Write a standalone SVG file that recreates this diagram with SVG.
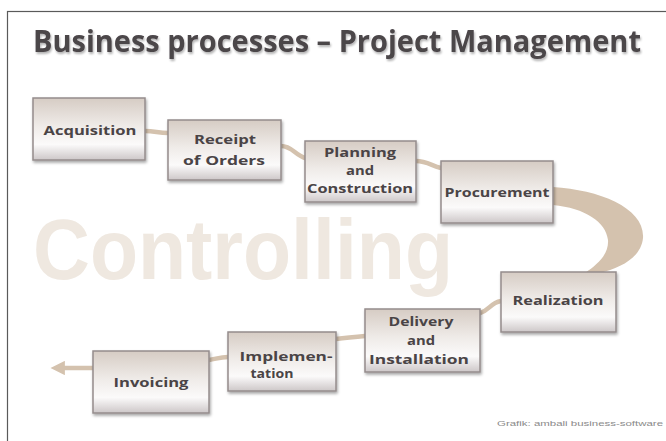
<svg xmlns="http://www.w3.org/2000/svg" width="666" height="441" viewBox="0 0 666 441">
<defs>
<linearGradient id="boxg" x1="0" y1="0" x2="0" y2="1">
<stop offset="0" stop-color="#d6ccc4"/>
<stop offset="0.45" stop-color="#efebe8"/>
<stop offset="0.75" stop-color="#fbfafa"/>
<stop offset="1" stop-color="#cdc7c8"/>
</linearGradient>
<filter id="sh" x="-10%" y="-10%" width="130%" height="140%">
<feGaussianBlur in="SourceAlpha" stdDeviation="1.5"/>
<feOffset dx="1" dy="2" result="b"/>
<feComponentTransfer><feFuncA type="linear" slope="0.35"/></feComponentTransfer>
<feMerge><feMergeNode/><feMergeNode in="SourceGraphic"/></feMerge>
</filter>
<filter id="tsh" x="-5%" y="-20%" width="110%" height="150%">
<feGaussianBlur in="SourceAlpha" stdDeviation="1"/>
<feOffset dx="1" dy="1.5"/>
<feComponentTransfer><feFuncA type="linear" slope="0.3"/></feComponentTransfer>
<feMerge><feMergeNode/><feMergeNode in="SourceGraphic"/></feMerge>
</filter>
<marker id="arr" viewBox="0 0 10 10" refX="2" refY="5" markerWidth="3.2" markerHeight="3.2" orient="auto-start-reverse">
<path d="M0,0 L10,5 L0,10 Z" fill="#d4c2ae"/>
</marker>
</defs>
<style>
.box{fill:url(#boxg);stroke:#958c8c;stroke-width:1.5;filter:url(#sh)}
.lbl{font-family:"Open Sans","DejaVu Sans",sans-serif;font-weight:700;font-size:13px;fill:#4a4446;text-anchor:middle}
.con{fill:none;stroke:#d4c2ae;stroke-width:4.5;stroke-linecap:round}
</style>
<rect x="0" y="0" width="666" height="441" fill="#ffffff"/>
<rect x="7.5" y="11.5" width="670" height="440" fill="none" stroke="#5a5a5a" stroke-width="1.2"/>
<text x="33" y="52" font-family="'Open Sans','DejaVu Sans',sans-serif" font-weight="700" font-size="30" fill="#4c464a" textLength="608" lengthAdjust="spacingAndGlyphs" filter="url(#tsh)">Business processes – Project Management</text>
<text x="33" y="279" font-family="'Liberation Sans',Arial,sans-serif" font-weight="700" font-size="85" fill="#efe8e0" textLength="420" lengthAdjust="spacingAndGlyphs">Controlling</text>
<g id="connectors">
<path class="con" d="M145,131 C155,131 158,133 168,133"/>
<path class="con" d="M281,146 C292,146 295,155 305,158"/>
<path class="con" d="M416,161 C427,161 432,166 441,168"/>
<path d="M553,187 C600,190 645,208 643,238 C641,258 620,268 600,273 L585,273 C598,264 609,254 608,240 C606,222 585,208 553,205 Z" fill="#d4c2ae"/>
<path class="con" d="M501,301 C490,303 490,310 480,313"/>
<path class="con" d="M365,336 C352,337 348,338 336,339"/>
<path class="con" d="M228,357 C220,357 216,359 209,360"/>
<path class="con" d="M93,368 L62,368" marker-end="url(#arr)"/>
</g>
<g id="acquisition"><rect class="box" x="33" y="98" width="112" height="62"/><text class="lbl" x="90" y="135" textLength="93" lengthAdjust="spacingAndGlyphs">Acquisition</text></g>
<g id="receipt"><rect class="box" x="168" y="120" width="113" height="60"/><text class="lbl" x="225" y="144" textLength="62" lengthAdjust="spacingAndGlyphs">Receipt</text><text class="lbl" x="224" y="165" textLength="82" lengthAdjust="spacingAndGlyphs">of Orders</text></g>
<g id="planning"><rect class="box" x="305" y="141" width="111" height="61"/><text class="lbl" x="360" y="157" textLength="72" lengthAdjust="spacingAndGlyphs">Planning</text><text class="lbl" x="360" y="175" textLength="28" lengthAdjust="spacingAndGlyphs">and</text><text class="lbl" x="360" y="193" textLength="106" lengthAdjust="spacingAndGlyphs">Construction</text></g>
<g id="procurement"><rect class="box" x="441" y="161" width="112" height="62"/><text class="lbl" x="497" y="197" textLength="105" lengthAdjust="spacingAndGlyphs">Procurement</text></g>
<g id="realization"><rect class="box" x="501" y="272" width="115" height="60"/><text class="lbl" x="558" y="305" textLength="91" lengthAdjust="spacingAndGlyphs">Realization</text></g>
<g id="delivery"><rect class="box" x="365" y="309" width="115" height="63"/><text class="lbl" x="421" y="326" textLength="65" lengthAdjust="spacingAndGlyphs">Delivery</text><text class="lbl" x="421" y="345" textLength="28" lengthAdjust="spacingAndGlyphs">and</text><text class="lbl" x="419" y="364" textLength="100" lengthAdjust="spacingAndGlyphs">Installation</text></g>
<g id="implementation"><rect class="box" x="228" y="332" width="108" height="59"/><text class="lbl" x="286" y="361" textLength="93" lengthAdjust="spacingAndGlyphs">Implemen-</text><text class="lbl" x="272" y="378" textLength="43" lengthAdjust="spacingAndGlyphs">tation</text></g>
<g id="invoicing"><rect class="box" x="93" y="351" width="116" height="62"/><text class="lbl" x="151" y="387" textLength="75" lengthAdjust="spacingAndGlyphs">Invoicing</text></g>
<text x="497" y="426" font-family="'Liberation Sans',sans-serif" font-size="8" fill="#8a8a8a" textLength="166" lengthAdjust="spacingAndGlyphs">Grafik: ambali business-software</text>
</svg>
